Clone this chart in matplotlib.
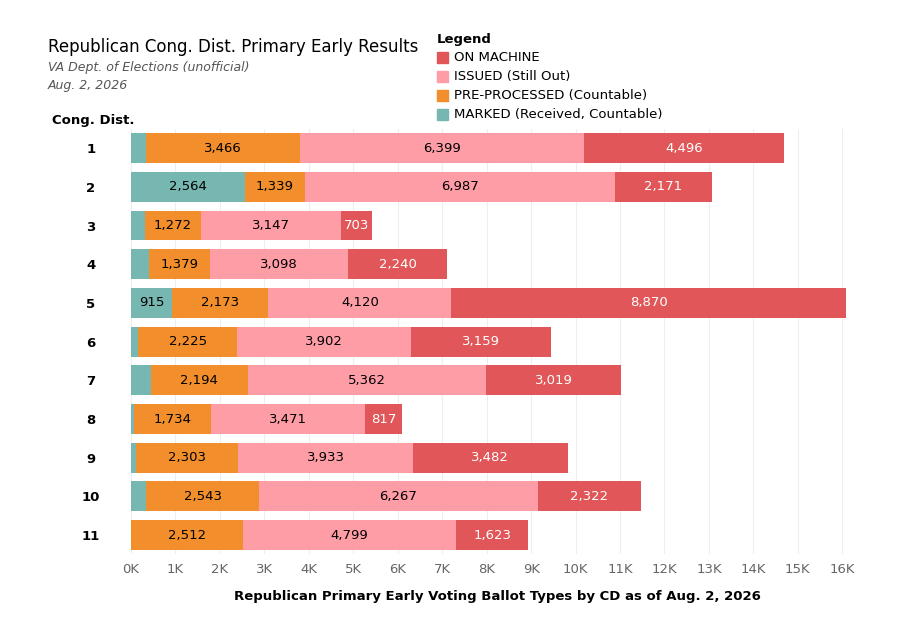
import matplotlib.pyplot as plt
import numpy as np

districts = ['1', '2', '3', '4', '5', '6', '7', '8', '9', '10', '11']
marked = [334, 2564, 303, 399, 915, 160, 439, 66, 105, 337, 0]
preproc = [3466, 1339, 1272, 1379, 2173, 2225, 2194, 1734, 2303, 2543, 2512]
issued = [6399, 6987, 3147, 3098, 4120, 3902, 5362, 3471, 3933, 6267, 4799]
on_machine = [4496, 2171, 703, 2240, 8870, 3159, 3019, 817, 3482, 2322, 1623]

series = [('MARKED (Received, Countable)', marked, '#76b7b2', 'black'),
          ('PRE-PROCESSED (Countable)', preproc, '#f28e2b', 'black'),
          ('ISSUED (Still Out)', issued, '#ff9da7', 'black'),
          ('ON MACHINE', on_machine, '#e15759', 'white')]

fig = plt.figure(figsize=(9, 6.38), dpi=100)
ax = fig.add_axes([0.1456, 0.131, 0.815, 0.667])
y = np.arange(len(districts))
left = np.zeros(len(districts))
for name, vals, col, tc in series:
    vals = np.array(vals, dtype=float)
    ax.barh(y, vals, left=left, color=col, height=0.77, label=name)
    for yi, l, v in zip(y, left, vals):
        if v >= 600:
            ax.text(l + v / 2, yi, f'{int(v):,}', ha='center', va='center',
                    fontsize=9.5, color=tc)
    left += vals

ax.set_ylim(len(districts) - 0.5, -0.5)
ax.set_xlim(0, 16500)
ax.set_xticks(np.arange(0, 17000, 1000))
ax.set_xticklabels([f'{i}K' for i in range(17)], color='#666666', fontsize=9.5)
ax.set_yticks(y)
ax.set_yticklabels(districts, fontweight='bold', fontsize=9.5)
ax.tick_params(length=0, pad=6)
ax.tick_params(axis='y', pad=29)
for t in ax.get_yticklabels():
    t.set_horizontalalignment('center')
ax.grid(axis='x', color='#eeeeee')
ax.set_axisbelow(True)
for s in ax.spines.values():
    s.set_visible(False)
ax.set_xlabel('Republican Primary Early Voting Ballot Types by CD as of Aug. 2, 2026',
              fontweight='bold', fontsize=9.5, labelpad=10)

fig.text(0.053, 0.918, 'Republican Cong. Dist. Primary Early Results', fontsize=12)
fig.text(0.053, 0.888, 'VA Dept. of Elections (unofficial)', fontsize=9,
         style='italic', color='#555555')
fig.text(0.053, 0.860, 'Aug. 2, 2026', fontsize=9, style='italic', color='#555555')
fig.text(0.058, 0.806, 'Cong. Dist.', fontsize=9.5, fontweight='bold')

fig.text(0.485, 0.932, 'Legend', fontsize=9.5, fontweight='bold')
leg_items = list(reversed(series))
for i, (name, vals, col, tc) in enumerate(leg_items):
    yy = 0.910 - i * 0.0298
    fig.patches.append(plt.Rectangle((0.486, yy - 0.009), 0.012, 0.018,
                                     transform=fig.transFigure, color=col))
    fig.text(0.504, yy, name, fontsize=9.5, va='center')

fig.savefig('out.png')
